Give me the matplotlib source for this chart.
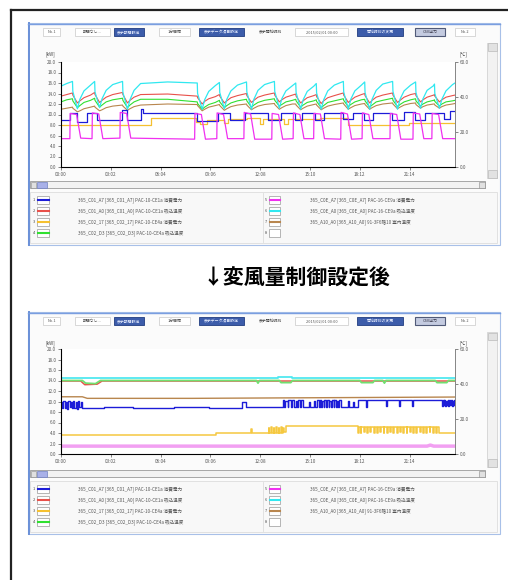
import matplotlib
matplotlib.use('Agg')
import matplotlib.pyplot as plt
from matplotlib.patches import Rectangle
from matplotlib.lines import Line2D

plt.rcParams['font.family'] = ['Noto Sans CJK JP', 'DejaVu Sans']

# ---------------- data ----------------
X_TICKS = [0, 3.033, 6.067, 9.1, 12.133, 15.167, 18.2, 21.233]
X_LABELS = ['00:00', '03:02', '06:04', '09:06', '12:08', '15:10', '18:12', '21:14']
Y_TICKS = [0, 2, 4, 6, 8, 10, 12, 14, 16, 18, 20]
Y2_TICKS = [0, 20, 40, 60]

LEG_LABELS = ['365_C01_A7 [365_C01_A7] PAC-10-CE1a 消費電力',
              '365_C01_A0 [365_C01_A0] PAC-10-CE1a 吸込温度',
              '365_C02_17 [365_C02_17] PAC-10-CE4a 消費電力',
              '365_C02_D3 [365_C02_D3] PAC-10-CE4a 吸込温度',
              '365_C0E_A7 [365_C0E_A7] PAC-16-CE9a 消費電力',
              '365_C0E_A0 [365_C0E_A0] PAC-16-CE9a 吸込温度',
              '365_A10_A0 [365_A10_A0] 91-3F6階10 室内温度',
              '']

TOOLBAR = [(43, 60, 'No.1', 'box'), (75, 110, '期間なし...', 'box'),
           (114, 144, '表示期間設定', 'btn'), (159, 190, '1分間隔', 'box'),
           (199, 244, '表示データ項目設定', 'btn'), (250, 292, '表示開始時刻', 'text'),
           (295, 348, '2015/02/01 00:00', 'box'), (357, 403, '開始時刻の変更', 'btn'),
           (415, 445, 'CSV出力', 'btn2'), (455, 475, 'No.2', 'box')]

TITLE = '↓変風量制御設定後'

# top chart (before) - shared time knots for temperature-like series
T_ENV = [0.0, 0.35,
         0.7, 0.72, 1.0, 1.15, 1.4, 1.8,
         2.05, 2.07, 2.35, 2.5, 2.75, 3.15,
         3.75, 3.77, 4.05, 4.2, 4.45, 4.85, 6.5,
         8.3, 8.32, 8.6, 8.75, 9.0, 9.4,
         9.65, 9.67, 9.95, 10.1, 10.35, 10.75,
         11.3, 11.32, 11.6, 11.75, 12.0, 12.4,
         13.0, 13.02, 13.3, 13.45, 13.7, 14.1,
         14.3, 14.32, 14.6, 14.75, 15.0, 15.4,
         15.55, 15.57, 15.85, 16.0, 16.25, 16.65,
         17.2, 17.22, 17.5, 17.65, 17.9, 18.3,
         18.5, 18.52, 18.8, 18.95, 19.2, 19.6,
         20.2, 20.22, 20.5, 20.65, 20.9, 21.3,
         21.6, 21.62, 21.9, 22.05, 22.3, 22.7,
         22.75, 22.77, 23.05, 23.2, 23.45, 23.85, 24.0]

CYAN_TOP = [15.4, 15.9,
            16.3, 14.4, 11.1, 12.9, 14.5, 15.6,
            16.3, 14.3, 11.3, 13.0, 14.6, 15.7,
            16.3, 14.2, 11.0, 12.8, 14.6, 15.9, 16.2,
            16.0, 14.0, 11.0, 12.8, 14.4, 15.5,
            16.1, 14.2, 11.1, 12.9, 14.5, 15.6,
            16.2, 14.3, 11.0, 12.9, 14.6, 15.7,
            16.3, 14.4, 11.2, 13.0, 14.5, 15.5,
            16.0, 14.2, 11.0, 12.8, 14.4, 15.4,
            15.9, 14.1, 11.0, 12.8, 14.5, 15.6,
            16.3, 14.3, 11.0, 12.9, 14.5, 15.6,
            16.2, 14.2, 11.0, 12.9, 14.6, 15.8,
            16.3, 14.4, 11.0, 12.9, 14.5, 15.6,
            16.2, 14.2, 11.2, 13.0, 14.6, 15.5,
            15.8, 14.0, 11.2, 12.9, 14.5, 15.7, 16.0]

RED_TOP = [13.5, 13.8,
           14.1, 13.7, 12.2, 12.6, 13.2, 13.7,
           14.2, 13.8, 12.3, 12.7, 13.3, 13.8,
           14.2, 13.8, 12.2, 12.7, 13.3, 13.8, 13.9,
           13.5, 13.2, 12.0, 12.5, 13.0, 13.4,
           13.8, 13.5, 12.2, 12.6, 13.2, 13.6,
           14.0, 13.6, 12.3, 12.7, 13.3, 13.7,
           14.1, 13.7, 12.4, 12.8, 13.3, 13.7,
           13.9, 13.5, 12.2, 12.6, 13.2, 13.6,
           13.8, 13.4, 12.1, 12.6, 13.2, 13.6,
           14.1, 13.7, 12.3, 12.7, 13.3, 13.8,
           14.0, 13.6, 12.2, 12.7, 13.3, 13.7,
           14.1, 13.7, 12.3, 12.7, 13.3, 13.8,
           14.0, 13.6, 12.4, 12.8, 13.3, 13.7,
           13.8, 13.5, 12.4, 12.8, 13.3, 13.6, 13.7]

GREEN_TOP = [12.4, 12.8,
             13.0, 12.6, 11.3, 11.7, 12.3, 12.7,
             13.1, 12.7, 11.4, 11.8, 12.4, 12.8,
             13.1, 12.7, 11.3, 11.8, 12.4, 12.9, 12.9,
             12.4, 12.1, 11.0, 11.4, 11.9, 12.3,
             12.7, 12.4, 11.3, 11.7, 12.2, 12.6,
             12.9, 12.6, 11.4, 11.8, 12.3, 12.7,
             13.0, 12.7, 11.6, 11.9, 12.4, 12.7,
             12.9, 12.6, 11.4, 11.8, 12.3, 12.6,
             12.8, 12.5, 11.3, 11.7, 12.3, 12.6,
             13.0, 12.7, 11.5, 11.9, 12.4, 12.8,
             12.9, 12.6, 11.4, 11.8, 12.4, 12.7,
             13.1, 12.7, 11.5, 11.9, 12.4, 12.8,
             13.0, 12.6, 11.6, 12.0, 12.4, 12.7,
             12.8, 12.5, 11.6, 12.0, 12.4, 12.6, 12.7]

BROWN_TOP = [11.0, 11.2,
             11.4, 11.2, 10.5, 10.7, 11.1, 11.4,
             11.6, 11.4, 10.7, 10.9, 11.3, 11.6,
             11.8, 11.6, 10.8, 11.1, 11.5, 11.8, 12.0,
             11.9, 11.7, 10.7, 11.0, 11.4, 11.7,
             11.9, 11.7, 10.8, 11.1, 11.5, 11.8,
             12.0, 11.8, 10.9, 11.2, 11.6, 11.9,
             12.1, 11.9, 11.0, 11.3, 11.7, 12.0,
             12.0, 11.8, 10.9, 11.2, 11.6, 11.9,
             12.0, 11.8, 10.9, 11.2, 11.6, 11.9,
             12.2, 12.0, 11.0, 11.3, 11.7, 12.0,
             12.1, 11.9, 11.0, 11.3, 11.7, 12.0,
             12.2, 12.0, 11.1, 11.4, 11.8, 12.1,
             12.2, 11.9, 11.2, 11.5, 11.8, 12.0,
             12.0, 11.8, 11.2, 11.5, 11.8, 12.0, 12.1]

T_MAG_TOP = [0, 0.54, 0.56, 0.95, 1.2,
             1.89, 1.91, 2.3, 2.55,
             3.59, 3.61, 4.0, 4.25,
             8.14, 8.16, 8.55, 8.8,
             9.49, 9.51, 9.9, 10.15,
             11.14, 11.16, 11.55, 11.8,
             12.84, 12.86, 13.25, 13.5,
             14.14, 14.16, 14.55, 14.8,
             15.39, 15.41, 15.8, 16.05,
             17.04, 17.06, 17.45, 17.7,
             18.34, 18.36, 18.75, 19.0,
             20.04, 20.06, 20.45, 20.7,
             21.44, 21.46, 21.85, 22.1,
             22.59, 22.61, 23.0, 23.25, 24.0]
MAG_TOP = [5.4, 5.4, 10.2, 10.0, 5.5,
           5.4, 10.3, 10.1, 5.4,
           5.5, 10.4, 10.2, 5.5,
           5.3, 10.2, 10.0, 5.3,
           5.4, 10.3, 10.0, 5.4,
           5.4, 10.4, 10.1, 5.3,
           5.3, 10.2, 10.0, 5.3,
           5.4, 10.3, 10.0, 5.4,
           5.4, 10.2, 10.1, 5.4,
           5.3, 10.4, 10.1, 5.3,
           5.4, 10.3, 10.0, 5.4,
           5.4, 10.2, 10.0, 5.3,
           5.3, 10.3, 10.1, 5.4,
           5.4, 10.2, 10.0, 5.4, 5.4]

T_BLUE_TOP = [0, 0.55, 0.95, 1.6, 2.2, 3.7, 4.0, 4.85, 5.0, 8.3,
              9.55, 10.3, 11.2, 12.6, 13.4, 14.25, 14.7, 15.5, 16.0, 17.15,
              17.8, 18.45, 19.0, 20.15, 20.9, 21.55, 22.2, 23.3, 23.7, 24.0]
BLUE_TOP = [8.9, 10.3, 8.6, 10.3, 8.9, 10.9, 8.9, 11.0, 10.3, 8.8,
            10.3, 8.9, 10.3, 9.0, 10.3, 9.0, 10.3, 9.0, 10.3, 9.1,
            10.3, 9.0, 10.3, 9.0, 10.4, 9.0, 10.3, 9.1, 10.7, 10.7]

T_YEL_TOP = [0, 5.5, 8.2, 8.45, 8.9, 9.9, 10.15, 11.3, 12.1, 12.3, 13.6, 13.85, 15.8, 17.5, 21.2, 24.0]
YEL_TOP = [8.0, 9.4, 8.5, 8.1, 9.0, 8.3, 9.1, 9.3, 8.2, 9.2, 8.1, 9.2, 9.4, 8.0, 8.3, 8.3]

# bottom chart (after)
T_CYAN_BOT = [0, 13.2, 14.1, 24]
CYAN_BOT = [14.4, 14.7, 14.4, 14.4]

T_GREEN_BOT = [0, 1.3, 1.5, 2.1, 2.4, 11.9, 12.0, 12.1, 13.3, 13.4, 14.0, 14.1,
               18.2, 18.3, 19.0, 19.1, 19.6, 19.7, 19.8, 22.8, 22.9, 23.5, 23.6, 24]
GREEN_BOT = [14.0, 14.0, 13.5, 13.4, 14.0, 14.0, 13.5, 14.0, 14.0, 13.6, 13.6, 14.0,
             14.0, 13.6, 13.6, 14.0, 14.0, 13.5, 14.0, 14.0, 13.6, 13.6, 14.0, 14.0]

T_RED_BOT = [0, 1.2, 1.45, 2.2, 2.5, 24]
RED_BOT = [13.9, 13.9, 13.2, 13.3, 13.9, 13.9]

T_BROWN_BOT = [0, 1.3, 1.6, 8.0, 24]
BROWN_BOT = [10.9, 10.9, 10.6, 10.6, 10.85]

T_MAG_BOT = [0, 22.3, 22.5, 22.7, 24]
MAG_BOT = [1.5, 1.5, 1.7, 1.5, 1.5]

BLUE_BOT = [(0, 10.0), (0.08, 8.7), (0.15, 10.1), (0.22, 8.8), (0.3, 10.0), (0.38, 8.6),
            (0.45, 10.1), (0.52, 8.9), (0.6, 10.0), (0.68, 8.7), (0.75, 10.1), (0.82, 8.8),
            (0.9, 10.0), (0.98, 8.6), (1.05, 10.1), (1.12, 8.9), (1.2, 10.0), (1.3, 8.8),
            (2.5, 8.7), (2.6, 8.9), (4.4, 8.7), (4.5, 8.8), (6.8, 8.7), (6.9, 8.9),
            (9.0, 8.8), (11.0, 10.0), (11.25, 8.9),
            (13.5, 10.2), (13.6, 8.9), (13.65, 10.1), (13.8, 9.0), (13.85, 10.2), (14.0, 8.9),
            (14.05, 10.2), (14.2, 8.9), (14.3, 10.1), (14.4, 8.9), (14.45, 10.2), (14.55, 9.0),
            (14.6, 10.2), (14.75, 8.9), (15.1, 10.0), (15.15, 8.9), (15.4, 10.1), (15.45, 8.9),
            (15.6, 10.2), (15.7, 8.9), (15.75, 10.2), (15.85, 9.0), (15.9, 10.1), (16.0, 8.9),
            (16.05, 10.2), (16.15, 8.9), (16.2, 10.2), (16.3, 9.0), (16.35, 10.1), (16.45, 8.9),
            (16.5, 10.2), (16.6, 8.9), (16.65, 10.2), (16.75, 9.0), (16.8, 10.1), (16.9, 8.9),
            (16.95, 10.2), (17.05, 8.9),
            (17.5, 10.1), (17.55, 8.9), (17.8, 10.0), (17.85, 8.9), (18.1, 10.2),
            (18.6, 9.0), (18.65, 10.2), (19.8, 9.2), (19.85, 10.2), (20.6, 9.1), (20.65, 10.2),
            (21.4, 9.2), (21.45, 10.2),
            (23.2, 9.2), (23.25, 10.2), (23.3, 9.3), (23.35, 10.2), (23.4, 9.2), (23.45, 10.1),
            (23.5, 9.3), (23.55, 10.2), (23.6, 9.2), (23.65, 10.2), (23.7, 9.3), (23.75, 10.2),
            (23.8, 9.2), (23.85, 10.1), (23.9, 9.3), (23.95, 10.2), (24.0, 10.2)]

YEL_BOT = [(0, 3.6), (9.45, 3.95), (11.55, 4.8), (11.65, 3.95), (12.65, 5.0), (12.7, 4.0),
           (12.8, 5.1), (12.85, 4.0), (12.95, 5.0), (13.0, 4.0), (13.1, 5.1), (13.15, 4.0),
           (13.25, 5.0), (13.3, 4.0), (13.4, 5.1), (13.45, 4.0), (13.55, 5.0), (13.6, 4.1),
           (13.7, 5.25), (18.1, 4.0), (18.15, 5.2), (18.25, 4.0), (18.3, 5.2), (18.45, 4.1),
           (18.5, 5.2), (18.65, 4.0), (18.7, 5.2), (18.85, 4.1), (18.9, 5.2), (19.05, 4.0),
           (19.1, 5.2), (19.25, 4.0), (19.3, 5.2), (19.45, 4.1), (19.5, 5.2), (19.65, 4.0),
           (19.7, 5.2), (19.85, 4.0), (19.9, 5.2), (20.05, 4.1), (20.1, 5.2), (20.25, 4.0),
           (20.3, 5.2), (20.45, 4.0), (20.5, 5.2), (20.65, 4.1), (20.7, 5.2), (20.85, 4.0),
           (20.9, 5.2), (21.05, 4.0), (21.1, 5.2), (21.25, 4.1), (21.3, 5.2), (21.45, 4.0),
           (21.5, 5.2), (21.65, 4.0), (21.7, 5.2), (21.85, 4.1), (21.9, 5.2), (22.05, 4.0),
           (22.1, 5.2), (22.25, 4.0), (22.3, 5.2), (22.45, 4.1), (22.5, 5.2), (22.65, 4.0),
           (22.7, 5.2), (22.85, 4.0), (22.9, 5.1), (23.0, 4.0), (24.0, 4.0)]

# colours
C_BLUE = '#1c1cd8'
C_RED = '#e8504a'
C_YEL = '#f5c030'
C_GREEN = '#30e030'
C_MAG = '#f030f0'
C_CYAN = '#30e8f0'
C_BROWN = '#b8864e'
LEG_COLORS = [C_BLUE, C_RED, C_YEL, C_GREEN, C_MAG, C_CYAN, C_BROWN, None]

# ---------------- figure ----------------
W, H = 508, 580
fig = plt.figure(figsize=(W / 100, H / 100), dpi=100)
fig.patch.set_facecolor('white')


def fx(x):
    return x / W


def fy(y):
    return 1 - y / H


def frect(x0, y0, x1, y1, **kw):
    kw.setdefault('zorder', -1)
    r = Rectangle((fx(x0), fy(y1)), (x1 - x0) / W, (y1 - y0) / H,
                  transform=fig.transFigure, **kw)
    fig.add_artist(r)


def fline(xs, ys, **kw):
    kw.setdefault('zorder', -0.5)
    fig.add_artist(Line2D([fx(x) for x in xs], [fy(y) for y in ys],
                          transform=fig.transFigure, **kw))


def ftext(x, y, s, **kw):
    fig.text(fx(x), fy(y), s, **kw)


# outer frame (open box)
fline([11, 11], [580, 10], color='#222222', lw=1.6)
fline([11, 508], [10, 10], color='#222222', lw=1.6)


def draw_panel(oy, ptop, pbot):
    # panel frame
    frect(28, oy, 500, oy + 222, facecolor='#fbfbfb', edgecolor='#a8c0e8', lw=0.8)
    fline([28.6, 28.6], [oy, oy + 222], color='#6a90d8', lw=1.4)
    fline([28, 500], [oy + 0.5, oy + 0.5], color='#7a9ee0', lw=1.0)
    # toolbar
    for x0, x1, lab, kind in TOOLBAR:
        y0, y1 = oy + 5, oy + 13
        if kind == 'box':
            frect(x0, y0, x1, y1, facecolor='white', edgecolor='#c8c8c8', lw=0.5)
            col = '#555555'
        elif kind == 'btn':
            frect(x0, y0, x1, y1, facecolor='#3c5caa', edgecolor='#203c80', lw=0.6)
            col = '#e8eeff'
        elif kind == 'btn2':
            frect(x0, y0, x1, y1, facecolor='#c4cbe0', edgecolor='#505a78', lw=0.8)
            col = '#334'
        else:
            col = '#444444'
        ftext((x0 + x1) / 2, (y0 + y1) / 2, lab, fontsize=2.8, color=col,
              ha='center', va='center')
    # unit labels
    ftext(50, oy + 31, '[kW]', fontsize=3.3, color='#444', ha='center', va='center')
    ftext(463, oy + 31, '[℃]', fontsize=3.3, color='#444', ha='center', va='center')
    # vertical scrollbar
    frect(487, oy + 20, 497, oy + 155, facecolor='#f2f2f2', edgecolor='#cccccc', lw=0.5)
    frect(487.5, oy + 20.5, 496.5, oy + 28, facecolor='#e2e2e2', edgecolor='#bbbbbb', lw=0.5)
    frect(487.5, oy + 147, 496.5, oy + 154.5, facecolor='#e2e2e2', edgecolor='#bbbbbb', lw=0.5)
    # horizontal scrollbar
    frect(30, oy + 158, 485, oy + 165, facecolor='#f2f2f2', edgecolor='#999999', lw=0.6)
    frect(30.5, oy + 158.5, 36, oy + 164.5, facecolor='#e0e0e0', edgecolor='#888', lw=0.4)
    frect(37, oy + 158.5, 47, oy + 164.5, facecolor='#a8b0e8', edgecolor='#7080c0', lw=0.5)
    frect(478.5, oy + 158.5, 484.5, oy + 164.5, facecolor='#e0e0e0', edgecolor='#888', lw=0.4)
    # legend
    frect(30, oy + 169, 497, oy + 220, facecolor='#f8f8f8', edgecolor='#dddddd', lw=0.6)
    fline([263, 263], [oy + 170, oy + 219], color='#dddddd', lw=0.6)
    rows = [177, 188, 199, 210]
    for i, (lab, col) in enumerate(zip(LEG_LABELS, LEG_COLORS)):
        cidx, r = divmod(i, 4)
        yr = oy + rows[r]
        xn, xs0, xs1, xt = (34, 37, 49, 78) if cidx == 0 else (266, 269, 280, 310)
        ftext(xn, yr, str(i + 1), fontsize=2.8, color='#444', ha='center', va='center')
        frect(xs0, yr - 4, xs1, yr + 4, facecolor='white', edgecolor='#999999', lw=0.5)
        if col is not None:
            fline([xs0 + 0.5, xs1 - 0.5], [yr, yr], color=col, lw=1.5)
        if lab:
            ftext(xt, yr, lab, fontsize=3.3, color='#555', ha='left', va='center')
    # plot axes
    ax = fig.add_axes([fx(61), fy(oy + pbot), 394 / W, (pbot - ptop) / H])
    ax.set_zorder(3)
    ax.set_facecolor('white')
    ax.set_xlim(0, 24)
    ax.set_ylim(0, 20)
    ax.set_xticks(X_TICKS)
    ax.set_xticklabels(X_LABELS)
    ax.set_yticks(Y_TICKS)
    ax.set_yticklabels(['%.1f' % v for v in Y_TICKS])
    ax.tick_params(labelsize=3.3, length=2, width=0.5, colors='#555', pad=1.5)
    ax.spines['top'].set_visible(False)
    for s in ['left', 'bottom', 'right']:
        ax.spines[s].set_color('#888888')
        ax.spines[s].set_linewidth(0.7)
    axr = ax.twinx()
    axr.set_zorder(4)
    axr.patch.set_visible(False)
    axr.set_ylim(0, 60)
    axr.set_yticks(Y2_TICKS)
    axr.set_yticklabels(['%.1f' % v for v in Y2_TICKS])
    axr.tick_params(labelsize=3.3, length=2, width=0.5, colors='#555', pad=1.5)
    axr.spines['top'].set_visible(False)
    axr.spines['right'].set_color('#888888')
    axr.spines['right'].set_linewidth(0.7)
    return ax


# top panel (before)
ax1 = draw_panel(23, 39, 144)
ax1.plot(T_ENV, BROWN_TOP, color=C_BROWN, lw=0.8)
ax1.plot(T_ENV, GREEN_TOP, color=C_GREEN, lw=0.8)
ax1.plot(T_ENV, RED_TOP, color=C_RED, lw=0.8)
ax1.plot(T_ENV, CYAN_TOP, color=C_CYAN, lw=0.9)
ax1.plot(T_YEL_TOP, YEL_TOP, color=C_YEL, lw=0.9, drawstyle='steps-post')
ax1.plot(T_BLUE_TOP, BLUE_TOP, color=C_BLUE, lw=0.9, drawstyle='steps-post')
ax1.plot(T_MAG_TOP, MAG_TOP, color=C_MAG, lw=0.9)

# title between
ftext(296, 278, TITLE, fontsize=15, fontweight='bold', color='black',
      ha='center', va='center')

# bottom panel (after)
ax2 = draw_panel(312, 37, 142)
ax2.plot(T_MAG_BOT, MAG_BOT, color='#f2a0f2', lw=2.5)
ax2.plot([p[0] for p in YEL_BOT], [p[1] for p in YEL_BOT], color='#f5c840', lw=1.1,
         drawstyle='steps-post')
ax2.plot(T_BROWN_BOT, BROWN_BOT, color=C_BROWN, lw=1.0)
ax2.plot([p[0] for p in BLUE_BOT], [p[1] for p in BLUE_BOT], color=C_BLUE, lw=1.0,
         drawstyle='steps-post')
ax2.plot(T_RED_BOT, RED_BOT, color=C_RED, lw=1.1)
ax2.plot(T_GREEN_BOT, GREEN_BOT, color='#70e070', lw=1.3)
ax2.plot(T_CYAN_BOT, CYAN_BOT, color='#50e8f0', lw=1.3, drawstyle='steps-post')

fig.savefig('out.png', dpi=100)
